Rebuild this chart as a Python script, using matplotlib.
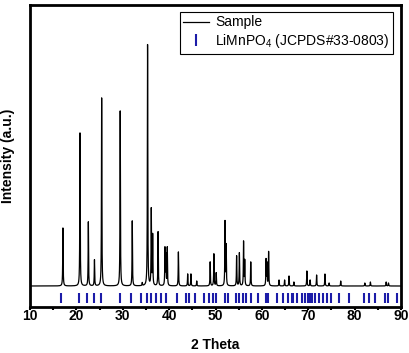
import numpy as np
import matplotlib
matplotlib.use("Agg")
import matplotlib.pyplot as plt
from matplotlib.lines import Line2D

plt.rcParams['font.family'] = ['Liberation Sans', 'DejaVu Sans']
plt.rcParams['mathtext.fontset'] = 'custom'
plt.rcParams['mathtext.rm'] = 'Liberation Sans'

# Observed sample peaks: 2-theta positions and relative intensities
peak_pos = [17.10, 20.78, 22.58, 23.90, 25.45, 29.45, 32.05, 34.20, 35.35, 36.15,
            36.45, 37.62, 39.10, 39.30, 39.60, 42.00, 44.00, 44.70, 45.95, 48.85,
            49.65, 50.15, 52.05, 52.30, 54.55, 55.15, 56.05, 56.30, 57.60, 60.90,
            61.10, 61.45, 63.70, 64.90, 65.85, 66.90, 69.70, 70.40, 71.80, 73.60,
            74.50, 77.00, 82.20, 83.40, 86.80, 87.30]
peak_int = [58, 153, 64, 26, 188, 175, 65, 3, 241, 76,
            50, 54, 37, 30, 38, 34, 12, 12, 5, 24,
            32, 13, 64, 40, 30, 33, 44, 25, 24, 26,
            22, 34, 6, 6, 10, 4, 15, 6, 11, 12,
            3, 5, 3, 4, 4, 3]
peak_fwhm = 0.10

# Reference pattern JCPDS#33-0803 line positions
ref_pos = [16.70, 20.59, 22.32, 23.84, 25.21, 29.32, 31.84, 34.00, 35.23, 36.16,
           37.24, 38.25, 39.26, 41.71, 43.66, 44.38, 45.68, 47.62, 48.70, 49.42,
           50.00, 51.95, 52.59, 54.40, 54.97, 55.84, 56.63, 57.57, 59.08, 60.81,
           61.39, 63.33, 64.63, 65.57, 66.60, 66.80, 67.51, 68.74, 69.39, 69.89,
           70.40, 70.83, 71.41, 72.27, 73.14, 74.15, 74.86, 76.67, 78.83, 82.07,
           83.01, 84.31, 86.61, 87.12, 89.21]

two_theta = np.arange(10.0, 90.0001, 0.01)
intensity = np.zeros_like(two_theta)
for p, h in zip(peak_pos, peak_int):
    intensity += h / (1.0 + (2.0 * (two_theta - p) / peak_fwhm) ** 2)

fig = plt.figure(figsize=(4.09, 3.53), dpi=100)
ax = fig.add_axes([30/409, 1 - 306.5/353, 371/409, 301.5/353])

ax.plot(two_theta, intensity, color='black', lw=0.9)
ax.vlines(ref_pos, -16.7, -6.7, color='#1c1ca8', lw=1.5)

ax.set_xlim(10, 90)
ax.set_ylim(-20.5, 281)
ax.set_xticks(np.arange(10, 91, 10))
ax.set_xticks(np.arange(15, 90, 10), minor=True)
ax.set_yticks([])
ax.tick_params(axis='x', which='major', direction='out', length=2.5, width=1.5, pad=-1)
ax.tick_params(axis='x', which='minor', direction='out', length=2.5, width=1.5)
for lab in ax.get_xticklabels():
    lab.set_fontweight('bold')
    lab.set_fontsize(10)
for s in ax.spines.values():
    s.set_linewidth(2.0)

ax.set_xlabel('2 Theta', fontsize=10, fontweight='bold', labelpad=11)
ax.set_ylabel('Intensity (a.u.)', fontsize=10, fontweight='bold', labelpad=11)

handles = [Line2D([0], [0], color='black', lw=0.9),
           Line2D([0], [0], color='#1c1ca8', lw=0, marker='|', markersize=9, mew=1.5)]
labels = ['Sample', 'LiMnPO$_{4}$ (JCPDS#33-0803)']
leg = ax.legend(handles, labels, loc='upper right', bbox_to_anchor=(0.978, 0.977),
                borderaxespad=0, fancybox=False, edgecolor='black', framealpha=1,
                fontsize=10, handlelength=1.9, handletextpad=0.4, labelspacing=0.2,
                borderpad=0.25)
leg.get_frame().set_linewidth(0.8)

fig.savefig('out.png', dpi=100)
